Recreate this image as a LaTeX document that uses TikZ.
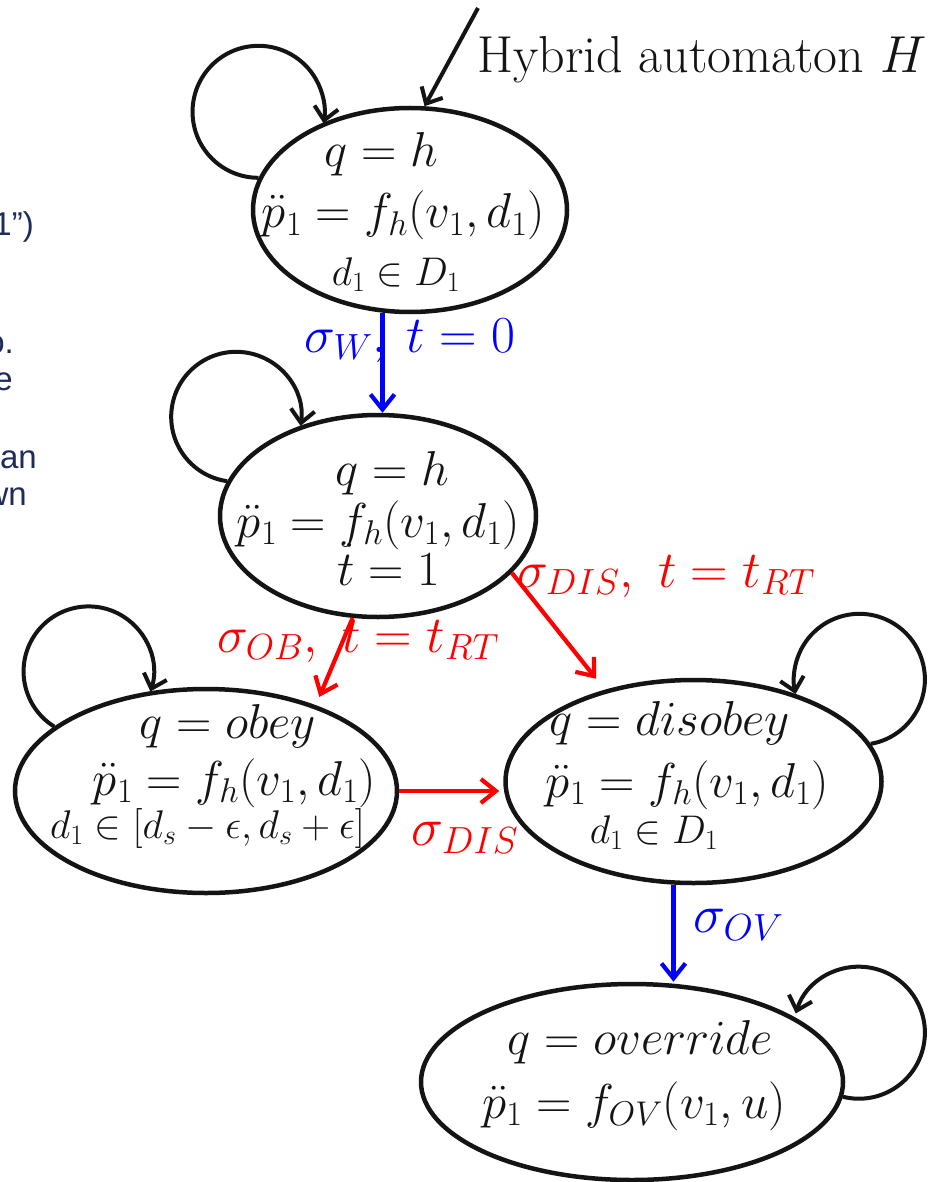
\RequirePackage{fix-cm}
\documentclass[tikz,border=0pt]{standalone}
\usepackage{fontspec}
\newfontfamily\sidefont{Liberation Sans}
\usetikzlibrary{arrows.meta,shapes.geometric}
\definecolor{sidecol}{RGB}{30,44,92}
\definecolor{ink}{RGB}{20,20,20}
\tikzset{
  state/.style={draw=ink, ellipse, line width=4.5pt, inner sep=0pt},
  stxt/.style={anchor=base, inner sep=0pt, text=ink, font=\fontsize{49}{59}\selectfont},
  smalltxt/.style={anchor=base, inner sep=0pt, text=ink, font=\fontsize{40}{48}\selectfont},
  lbl/.style={anchor=base, inner sep=0pt, font=\fontsize{52}{62}\selectfont},
  biglbl/.style={anchor=base, inner sep=0pt, font=\fontsize{54}{64}\selectfont},
  loopar/.style={draw=ink, line width=4pt, -{Straight Barb[length=13pt,width=24pt]}},
  bluear/.style={draw=blue, line width=4.2pt, -{Straight Barb[length=15pt,width=24pt]}},
  redar/.style={draw=red, line width=4.2pt, -{Straight Barb[length=15pt,width=24pt]}},
  side/.style={anchor=base east, inner sep=0pt, text=sidecol, font=\sidefont\fontsize{33}{37}\selectfont}
}
\begin{document}
\begin{tikzpicture}[x=1pt,y=-1pt]
\fill[white] (0,0) rectangle (930,1182);
\useasboundingbox (0,0) rectangle (930,1182);

% stray fragments of neighbouring text
\node[side] (f1) at (34,236) {1”)};
\node[side] (f2) at (14,353) {o.};
\node[side] (f3) at (13,390) {e};
\node[side] (f4) at (37,468) {nan};
\node[side] (f5) at (27,505) {wn};

% states
\node[state, minimum width=314pt, minimum height=204pt] (s1) at (410,210) {};
\node[state, minimum width=316pt, minimum height=202pt] (s2) at (378,516) {};
\node[state, minimum width=382pt, minimum height=204pt] (s3) at (206,791) {};
\node[state, minimum width=376pt, minimum height=203pt] (s4) at (693.5,781.5) {};
\node[state, minimum width=422pt, minimum height=196pt] (s5) at (632,1082) {};

% state texts
\node[stxt] (s1a) at (381.5,167) {$q=h$};
\node[stxt] (s1b) at (403.5,228) {$\ddot{p}_1=f_h(v_1,d_1)$};
\node[smalltxt] (s1c) at (396,285) {$d_1\in D_1$};

\node[stxt] (s2a) at (392.5,485) {$q=h$};
\node[stxt] (s2b) at (378.5,537) {$\ddot{p}_1=f_h(v_1,d_1)$};
\node[stxt] (s2c) at (388.5,585) {$\dot{t}=1$};

\node[stxt] (s3a) at (228,738) {$q=obey$};
\node[stxt] (s3b) at (234.5,795) {$\ddot{p}_1=f_h(v_1,d_1)$};
\node[smalltxt] (s3c) at (207.5,838) {$d_1\in[d_s-\epsilon,d_s+\epsilon]$};

\node[stxt] (s4a) at (670,735) {$q=disobey$};
\node[stxt] (s4b) at (687.5,797) {$\ddot{p}_1=f_h(v_1,d_1)$};
\node[smalltxt] (s4c) at (654,843) {$d_1\in D_1$};

\node[stxt] (s5a) at (640.5,1054) {$q=override$};
\node[stxt] (s5b) at (634,1118) {$\ddot{p}_1=f_{OV}(v_1,u)$};

% title
\node[anchor=base west, inner sep=0pt, text=ink, font=\fontsize{52}{62}\selectfont] (title) at (477,73) {Hybrid automaton $H$};

% initial arrow
\coordinate (init) at (478,8);
\draw[loopar] (init) -- (s1.82);

% self loops
\draw[loopar] (s1.168) arc[start angle=90, end angle=370, radius=66];
\draw[loopar] (s2.167) arc[start angle=98, end angle=368, radius=65];
\draw[loopar] (s3.157) arc[start angle=122, end angle=378, radius=65];
\draw[loopar] (s4.12) arc[start angle=80, end angle=-193, radius=65.5];
\draw[loopar] (s5.-4) arc[start angle=104, end angle=-163, radius=66];

% transitions
\draw[bluear] (s1.-105.6) -- (s1.-105.6 |- s2.north);
\draw[redar, shorten >=9pt] (s2.-104.6) -- (s3.38);
\draw[redar, shorten >=14pt] (s2.-23) -- (s4.134);
\draw[redar, shorten >=4pt] (s3.east) -- (s3.east -| s4.west);
\draw[bluear] (s4.-101.5) -- (s4.-101.5 |- s5.north);

% labels
\node[lbl, text=blue] (lw) at (410,352) {$\sigma_W,$\hspace{20pt}$t=0$};
\node[lbl, text=red] (lob) at (358,652) {$\sigma_{OB},\ t=t_{RT}$};
\node[lbl, text=red] (ldis) at (666,587) {$\sigma_{DIS},\ t=t_{RT}$};
\node[biglbl, text=red] (ldis2) at (465,845) {$\sigma_{DIS}$};
\node[biglbl, text=blue] (lov) at (738.5,932) {$\sigma_{OV}$};
\end{tikzpicture}
\end{document}
